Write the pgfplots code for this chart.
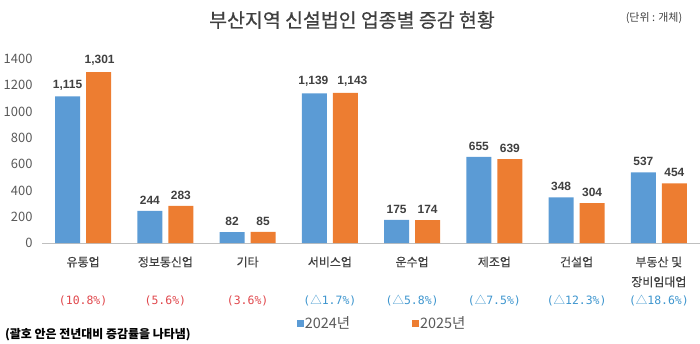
\documentclass[border=0pt]{standalone}
\usepackage{pgfplots}
\usepackage{pgfplotstable}
\pgfplotsset{compat=1.18}
\usepackage{fontspec}
\setmainfont{Noto Sans CJK KR}
\newfontfamily\titlefont[FakeBold=0.6]{Noto Sans CJK KR}
\newfontfamily\catfont[FakeBold=0.3]{Noto Sans CJK KR}
\newfontfamily\monofont{DejaVu Sans Mono}
\newfontfamily\cjkfont{Noto Sans CJK KR}
\newfontfamily\numfont{Liberation Sans}
\definecolor{barblue}{HTML}{5B9BD5}
\definecolor{barorange}{HTML}{ED7D31}
\definecolor{txtgray}{HTML}{595959}
\definecolor{txtdark}{HTML}{404040}
\definecolor{pctred}{HTML}{E0474C}
\definecolor{pctblue}{HTML}{3D95CE}
\newcommand{\tri}{{\cjkfont △}}
\pgfplotstableread{
x y dx
0 1115 0
1 244 0
2 82 0
3 1139 -1
4 175 0
5 655 0
6 348 0
7 537 0
}\tablea
\pgfplotstableread{
x y dx
0 1301 1
1 283 0
2 85 0
3 1143 7
4 174 0
5 639 0
6 304 0
7 454 0
}\tableb
\begin{document}
\begin{tikzpicture}
\useasboundingbox (0,0) rectangle (700bp,344bp);
\node[font=\titlefont\fontsize{19.5}{21}\selectfont, text=txtdark] at (352bp,324bp) {부산지역 신설법인 업종별 증감 현황};
\node[font=\fontsize{11}{12}\selectfont, text=txtdark] at (654bp,326bp) {(단위 : 개체)};
\node[font=\bfseries\fontsize{12}{13}\selectfont, text=black, anchor=west, inner sep=0pt] at (5bp,9bp) {(괄호 안은 전년대비 증감률을 나타냄)};
\begin{axis}[
  at={(42bp,101bp)}, anchor=south west,
  scale only axis, width=658bp, height=184bp,
  xmin=-0.5, xmax=7.5, ymin=0, ymax=1400,
  ybar=6bp, bar width=25bp,
  axis x line=bottom, axis y line=left,
  x axis line style={-, draw=black!25, line width=1pt},
  y axis line style={draw=none},
  major tick length=0pt,
  ytick={0,200,...,1400},
  yticklabel style={font=\fontsize{13}{14}\selectfont, text=txtgray, xshift=-6bp},
  /pgf/number format/assume math mode=true,
  yticklabel={\pgfmathprintnumber[1000 sep={}]{\tick}},
  xtick=data,
  xticklabels={유통업, 정보통신업, 기타, 서비스업, 운수업, 제조업, 건설업, {부동산 및\\장비임대업}},
  xticklabel style={align=center, font=\catfont\fontsize{12}{20}\selectfont, text=txtdark, yshift=-10bp},
  nodes near coords,
  visualization depends on={\thisrow{dx} \as \dx},
  nodes near coords style={font=\numfont\bfseries\fontsize{12}{13}\selectfont, text=txtdark, yshift=3bp, xshift=\dx bp, /pgf/number format/.cd, 1000 sep={,}},
  legend columns=2,
  legend style={draw=none, fill=none, at={(0.517,-0.435)}, anchor=center,
    font=\fontsize{14.5}{16}\selectfont, text=txtgray,
    /tikz/every even column/.append style={column sep=60bp},
    /tikz/every odd column/.append style={column sep=-1bp}},
  legend image code/.code={\path[#1, draw=none] (0bp,-3.5bp) rectangle (7bp,3.5bp);},
  clip=false,
]
\addplot[fill=barblue, draw=none] table[x=x, y=y] {\tablea};
\addplot[fill=barorange, draw=none] table[x=x, y=y] {\tableb};
\legend{2024년, 2025년}
\node[font=\monofont\fontsize{11.5}{12}\selectfont, text=pctred] at (axis cs:0,0) [yshift=-58bp] {(10.8\%)};
\node[font=\monofont\fontsize{11.5}{12}\selectfont, text=pctred] at (axis cs:1,0) [yshift=-58bp] {(5.6\%)};
\node[font=\monofont\fontsize{11.5}{12}\selectfont, text=pctred] at (axis cs:2,0) [yshift=-58bp] {(3.6\%)};
\node[font=\monofont\fontsize{11.5}{12}\selectfont, text=pctblue] at (axis cs:3,0) [yshift=-58bp] {(\tri1.7\%)};
\node[font=\monofont\fontsize{11.5}{12}\selectfont, text=pctblue] at (axis cs:4,0) [yshift=-58bp] {(\tri5.8\%)};
\node[font=\monofont\fontsize{11.5}{12}\selectfont, text=pctblue] at (axis cs:5,0) [yshift=-58bp] {(\tri7.5\%)};
\node[font=\monofont\fontsize{11.5}{12}\selectfont, text=pctblue] at (axis cs:6,0) [yshift=-58bp] {(\tri12.3\%)};
\node[font=\monofont\fontsize{11.5}{12}\selectfont, text=pctblue] at (axis cs:7,0) [yshift=-58bp] {(\tri18.6\%)};
\end{axis}
\end{tikzpicture}
\end{document}
